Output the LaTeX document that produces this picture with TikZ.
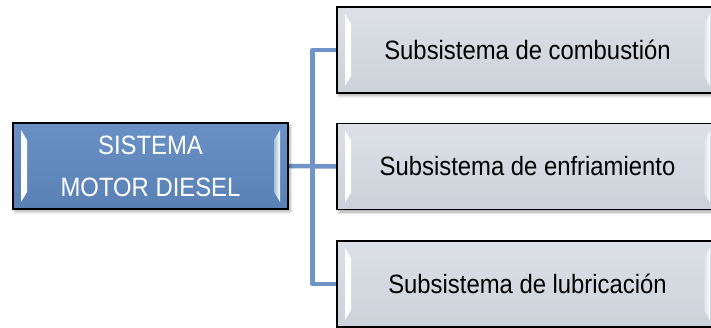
\documentclass[tikz,border=0pt]{standalone}
\usepackage{fontspec}
\setmainfont{Liberation Sans}
\newfontfamily\boxfont{Liberation Sans}[FakeStretch=0.9]
\usetikzlibrary{shadows.blur,calc,backgrounds}

\definecolor{maintop}{HTML}{6A91C6}
\definecolor{mainbot}{HTML}{5A81B6}
\definecolor{subtop}{HTML}{DDE0E7}
\definecolor{subbot}{HTML}{CDD1D9}
\definecolor{linkblue}{HTML}{7194C8}

\tikzset{
  % bevelled box with light side strips
  bevelbox/.style={
    rectangle, draw=black, line width=1.6pt, inner sep=0pt,
    align=center, font=\boxfont\fontsize{26.5}{42}\selectfont,
    blur shadow={shadow xshift=2pt, shadow yshift=-2.5pt,
                 shadow blur radius=3pt, shadow opacity=35},
    path picture={
      \shade[left color=white, right color=#1]
        ($(path picture bounding box.north west)+(8pt,-7pt)$) -- ++(6pt,-10pt)
        -- ($(path picture bounding box.south west)+(14pt,17pt)$) -- ++(-6pt,-10pt) -- cycle;
      \shade[right color=white, left color=#1]
        ($(path picture bounding box.north east)+(-8pt,-7pt)$) -- ++(-6pt,-10pt)
        -- ($(path picture bounding box.south east)+(-14pt,17pt)$) -- ++(6pt,-10pt) -- cycle;
    }
  },
  mainbox/.style={bevelbox=maintop!60!white, top color=maintop, bottom color=mainbot,
    text=white, minimum width=275pt, minimum height=86pt},
  subbox/.style={bevelbox=subtop, top color=subtop, bottom color=subbot,
    text=black, minimum width=381pt, minimum height=86pt},
  conn/.style={draw=linkblue, line width=4.5pt, line join=round}
}

\begin{document}
\begin{tikzpicture}[x=1pt,y=1pt]
\useasboundingbox (0,0) rectangle (711,-327);

\node[mainbox] (main) at (150.5,-166) {SISTEMA\\MOTOR DIESEL};
\node[subbox] (sub1) at (527.5,-50) {Subsistema de combustión};
\node[subbox] (sub2) at (527.5,-166.5) {Subsistema de enfriamiento};
\node[subbox] (sub3) at (527.5,-284) {Subsistema de lubricación};

% tree connector
\coordinate (bus) at ($(main.east)!.5!(sub2.west)$);
\begin{scope}[on background layer]
\draw[conn] (main.east) -- (sub2.west);
\draw[conn] (sub1.west) -| (bus) |- (sub3.west);
\end{scope}
\end{tikzpicture}
\end{document}
